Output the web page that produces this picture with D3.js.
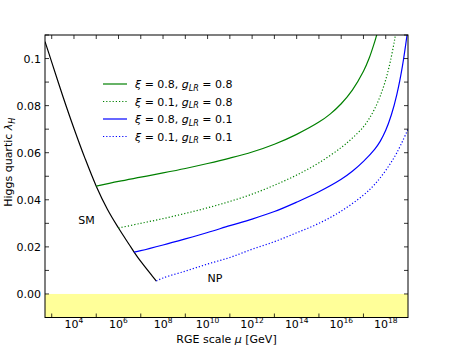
<!DOCTYPE html>
<html>
<head>
<meta charset="utf-8">
<script src="https://cdn.jsdelivr.net/npm/d3@7"></script>
<style>
	body { margin: 0; background: #fff; }
	text { font-family: "DejaVu Sans", sans-serif; }
</style>
</head>
<body>
<div id="my_dataviz"></div>
<script>
// values, mu given as log10(mu / GeV)
const smLogMu = [2.7, 3.0, 3.5, 4.0, 4.5, 5.0, 5.5, 6.0, 6.5, 6.7, 7.0, 7.5, 7.7];
const smLambda = [0.1072, 0.0985, 0.0840, 0.0703, 0.0575, 0.0458, 0.0360, 0.0280, 0.0207, 0.0178, 0.0138, 0.0078, 0.0055];

const g08LogMu = [5.0, 6.0, 7.0, 8.0, 9.0, 10.0, 11.0, 12.0, 13.0, 14.0, 15.0, 15.5, 16.0, 16.5, 17.0, 17.25, 17.5, 17.6, 17.7];
const g08Lambda = [0.0458, 0.0478, 0.0496, 0.0514, 0.0533, 0.0554, 0.0577, 0.0603, 0.0636, 0.0678, 0.0730, 0.0764, 0.0808, 0.0866, 0.0946, 0.1000, 0.1070, 0.1102, 0.1140];

const g01xLogMu = [6.0, 7.0, 8.0, 9.0, 10.0, 11.0, 12.0, 13.0, 14.0, 15.0, 16.0, 16.5, 17.0, 17.25, 17.5, 17.75, 18.0, 18.2, 18.4, 18.5];
const g01xLambda = [0.0280, 0.0300, 0.0320, 0.0342, 0.0366, 0.0393, 0.0424, 0.0462, 0.0505, 0.0557, 0.0622, 0.0662, 0.0710, 0.0744, 0.0786, 0.0840, 0.0910, 0.0985, 0.1080, 0.1140];

const b08LogMu = [6.7, 7.0, 8.0, 9.0, 10.0, 11.0, 12.0, 13.0, 14.0, 15.0, 16.0, 16.5, 17.0, 17.5, 17.75, 18.0, 18.25, 18.5, 18.75, 19.0];
const b08Lambda = [0.0178, 0.0184, 0.0208, 0.0234, 0.0261, 0.0290, 0.0318, 0.0350, 0.0390, 0.0434, 0.0487, 0.0521, 0.0563, 0.0614, 0.0648, 0.0695, 0.0760, 0.0848, 0.0968, 0.1130];

const b01LogMu = [7.7, 8.0, 9.0, 10.0, 11.0, 12.0, 13.0, 14.0, 15.0, 16.0, 17.0, 17.5, 18.0, 18.5, 19.0];
const b01Lambda = [0.0055, 0.0068, 0.0097, 0.0127, 0.0155, 0.0190, 0.0222, 0.0260, 0.0300, 0.0352, 0.0420, 0.0465, 0.0525, 0.0600, 0.0700];

const seriesXi = ['0.8', '0.1', '0.8', '0.1'];
const seriesG = ['0.8', '0.8', '0.1', '0.1'];

const xTickExp = [4, 6, 8, 10, 12, 14, 16, 18];
const yTickLabels = ['0.00', '0.02', '0.04', '0.06', '0.08', '0.1'];

var W = 454, H = 353;
var margin = { top: 35, right: 46, bottom: 35.5, left: 45 };
var width = W - margin.left - margin.right,
	height = H - margin.top - margin.bottom;

var svg = d3.select("#my_dataviz")
	.append("svg")
	.attr("width", W)
	.attr("height", H)
	.append("g")
	.attr("transform", "translate(" + margin.left + "," + margin.top + ")");

var x = d3.scaleLog()
	.domain([500, 1e19])
	.range([0, width]);

var y = d3.scaleLinear()
	.domain([-0.01, 0.11])
	.range([height, 0]);

svg.append("clipPath")
	.attr("id", "plotclip")
	.append("rect")
	.attr("width", width)
	.attr("height", height);

var plot = svg.append("g").attr("clip-path", "url(#plotclip)");

// excluded region lambda < 0
plot.append("rect")
	.attr("x", 0)
	.attr("y", y(0))
	.attr("width", width)
	.attr("height", y(-0.01) - y(0))
	.attr("fill", "#ffff99");

var line = d3.line()
	.x(d => x(Math.pow(10, d[0])))
	.y(d => y(d[1]))
	.curve(d3.curveCatmullRom.alpha(0.5));

var series = [
	{ mu: g08LogMu, lam: g08Lambda, color: "#008000", dash: null },
	{ mu: g01xLogMu, lam: g01xLambda, color: "#008000", dash: "1.2,2" },
	{ mu: b08LogMu, lam: b08Lambda, color: "#0000ff", dash: null },
	{ mu: b01LogMu, lam: b01Lambda, color: "#0000ff", dash: "1.2,2" }
];

plot.append("path")
	.datum(d3.zip(smLogMu, smLambda))
	.attr("d", line)
	.attr("fill", "none")
	.attr("stroke", "#000")
	.attr("stroke-width", 1.2);

series.forEach(function (s) {
	plot.append("path")
		.datum(d3.zip(s.mu, s.lam))
		.attr("d", line)
		.attr("fill", "none")
		.attr("stroke", s.color)
		.attr("stroke-width", 1.2)
		.attr("stroke-dasharray", s.dash);
});

// ticks (pointing inwards, all four sides)
var decades = d3.range(3, 19);
var yTicks = d3.range(0, 12).map(i => i / 100);
var ticks = svg.append("g").attr("stroke", "#000").attr("stroke-width", 0.8);

decades.forEach(function (e) {
	var px = x(Math.pow(10, e));
	ticks.append("line").attr("x1", px).attr("x2", px).attr("y1", 0).attr("y2", 4);
	if (e % 2 == 1) {
		ticks.append("line").attr("x1", px).attr("x2", px).attr("y1", height).attr("y2", height - 4);
	}
});
yTicks.forEach(function (v) {
	ticks.append("line").attr("x1", 0).attr("x2", 4).attr("y1", y(v)).attr("y2", y(v));
	ticks.append("line").attr("x1", width).attr("x2", width - 4).attr("y1", y(v)).attr("y2", y(v));
});

svg.append("rect")
	.attr("width", width)
	.attr("height", height)
	.attr("fill", "none")
	.attr("stroke", "#000")
	.attr("stroke-width", 1);

// tick labels
xTickExp.forEach(function (e) {
	var t = svg.append("text")
		.attr("x", x(Math.pow(10, e)))
		.attr("y", height + 10)
		.attr("text-anchor", "middle")
		.attr("font-size", 11);
	t.append("tspan").text("10");
	t.append("tspan").attr("font-size", 7.5).attr("dy", -4.5).text(e);
});

yTickLabels.forEach(function (lab, i) {
	svg.append("text")
		.attr("x", -4)
		.attr("y", y(i * 0.02) + 4)
		.attr("text-anchor", "end")
		.attr("font-size", 11)
		.text(lab);
});

// axis titles
var xt = svg.append("text")
	.attr("x", width / 2)
	.attr("y", height + 25)
	.attr("text-anchor", "middle")
	.attr("font-size", 11);
xt.append("tspan").text("RGE scale ");
xt.append("tspan").attr("font-style", "italic").text("μ");
xt.append("tspan").text(" [GeV]");

var yt = svg.append("text")
	.attr("transform", "translate(" + (-33) + "," + (height / 2 - 14) + ") rotate(-90)")
	.attr("text-anchor", "middle")
	.attr("font-size", 11);
yt.append("tspan").text("Higgs quartic ");
yt.append("tspan").attr("font-style", "italic").text("λ");
yt.append("tspan").attr("font-style", "italic").attr("font-size", 8).attr("dy", 2.5).text("H");

// region labels
svg.append("text").attr("x", 41.5).attr("y", 189).attr("text-anchor", "middle")
	.attr("font-size", 11).text("SM");
svg.append("text").attr("x", 170).attr("y", 247).attr("text-anchor", "middle")
	.attr("font-size", 11).text("NP");

// legend
var legend = svg.append("g").attr("transform", "translate(58,49)");
series.forEach(function (s, i) {
	var row = legend.append("g").attr("transform", "translate(0," + (i * 17.5) + ")");
	row.append("line")
		.attr("x1", 0).attr("x2", 24)
		.attr("stroke", s.color)
		.attr("stroke-width", 1.2)
		.attr("stroke-dasharray", s.dash);
	var t = row.append("text")
		.attr("x", 32)
		.attr("y", 4)
		.attr("font-size", 11);
	t.append("tspan").attr("font-style", "italic").text("ξ");
	t.append("tspan").text(" = " + seriesXi[i] + ", ");
	t.append("tspan").attr("font-style", "italic").text("g");
	t.append("tspan").attr("font-style", "italic").attr("font-size", 8).attr("dy", 2.5).text("LR");
	t.append("tspan").attr("dy", -2.5).text(" = " + seriesG[i]);
});
</script>
</body>
</html>
